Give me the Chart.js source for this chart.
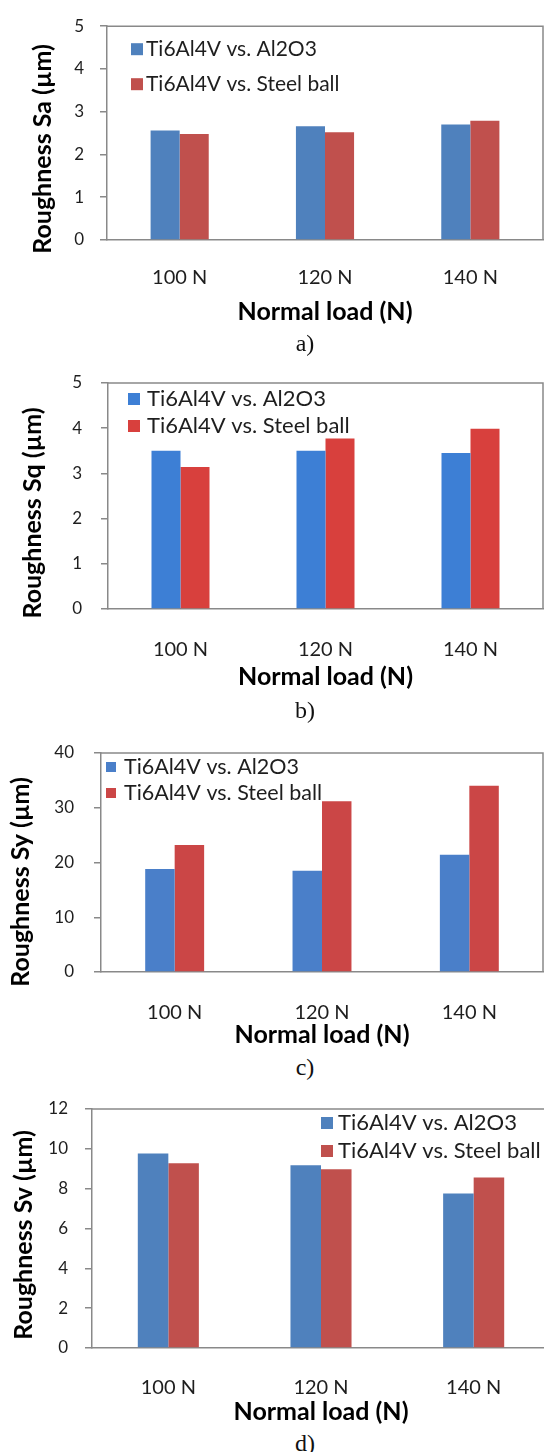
<!DOCTYPE html>
<html>
<head>
<meta charset="utf-8">
<script src="https://cdn.jsdelivr.net/npm/chart.js@4.4.1/dist/chart.umd.min.js"></script>
<style>
  html, body { margin: 0; padding: 0; background: #fff; }
  body { width: 544px; height: 1452px; position: relative; overflow: hidden; }
  canvas { position: absolute; left: 0; }
  .cap { position: absolute; width: 60px; margin-left: -30px; text-align: center;
         font-family: "Liberation Serif", serif; font-size: 24px; line-height: 24px; color: #111; }
</style>
</head>
<body>
<canvas id="chartA" width="544" height="330" style="top:0px"></canvas>
<canvas id="chartB" width="544" height="345" style="top:350px"></canvas>
<canvas id="chartC" width="544" height="343" style="top:710px"></canvas>
<canvas id="chartD" width="552" height="350" style="top:1080px"></canvas>
<div class="cap" style="left:305px;top:331px">a)</div>
<div class="cap" style="left:305px;top:698px">b)</div>
<div class="cap" style="left:305px;top:1055px">c)</div>
<div class="cap" style="left:305px;top:1431px">d)</div>
<script>
// categories and series
const loads = ['100 N', '120 N', '140 N'];
const seriesNames = ['Ti6Al4V vs. Al2O3', 'Ti6Al4V vs. Steel ball'];

// a) Sa
const saAl2O3 = [2.56, 2.66, 2.70];
const saSteel = [2.48, 2.52, 2.79];
// b) Sq
const sqAl2O3 = [3.50, 3.50, 3.45];
const sqSteel = [3.14, 3.77, 3.99];
// c) Sy
const syAl2O3 = [18.8, 18.5, 21.4];
const sySteel = [23.2, 31.2, 34.0];
// d) Sv
const svAl2O3 = [9.77, 9.17, 7.76];
const svSteel = [9.27, 8.97, 8.56];

const xTitle = 'Normal load (N)';
const AXIS = '#898989';
const TXT = '#1e1e1e';

// top + right border of the plot area
const framePlugin = {
    id: 'frame',
    beforeDatasetsDraw(chart) {
        const {ctx, chartArea: a} = chart;
        ctx.save();
        ctx.strokeStyle = AXIS;
        ctx.lineWidth = 1.5;
        ctx.beginPath();
        ctx.moveTo(a.left, a.top);
        ctx.lineTo(a.right, a.top);
        ctx.lineTo(a.right, a.bottom);
        ctx.stroke();
        ctx.restore();
    }
};

// legend drawn inside the plot area
const boxLegend = {
    id: 'boxLegend',
    afterDatasetsDraw(chart, args, o) {
        const {ctx, chartArea} = chart;
        ctx.save();
        ctx.font = o.size + 'px Lato';
        ctx.textBaseline = 'middle';
        ctx.textAlign = 'left';
        chart.data.datasets.forEach((ds, i) => {
            const y = chartArea.top + o.rows[i];
            const x = chartArea.left + o.x;
            ctx.fillStyle = ds.backgroundColor;
            ctx.fillRect(x, y - o.box / 2, o.box, o.box);
            ctx.fillStyle = TXT;
            ctx.fillText(ds.label, x + o.box + o.gap, y);
        });
        ctx.restore();
    }
};

// rotated y axis title
const sideTitle = {
    id: 'sideTitle',
    afterDraw(chart, args, o) {
        const ctx = chart.ctx;
        ctx.save();
        ctx.translate(o.x, o.y);
        ctx.rotate(-Math.PI / 2);
        ctx.font = 'bold ' + o.size + 'px Lato';
        ctx.fillStyle = '#000';
        ctx.textAlign = 'center';
        ctx.textBaseline = 'middle';
        ctx.fillText(o.text, 0, 0);
        ctx.restore();
    }
};

function makePanel(id, p) {
    const canvas = document.getElementById(id);
    return new Chart(canvas, {
        type: 'bar',
        data: {
            labels: loads,
            datasets: [
                {label: seriesNames[0], data: p.first, backgroundColor: p.colors[0]},
                {label: seriesNames[1], data: p.second, backgroundColor: p.colors[1]}
            ]
        },
        options: {
            responsive: false,
            animation: false,
            layout: {padding: {top: p.top, right: canvas.width - p.right, left: 0, bottom: 0}},
            datasets: {bar: {categoryPercentage: 0.4, barPercentage: 1.0}},
            scales: {
                x: {
                    grid: {drawOnChartArea: false, drawTicks: false},
                    border: {color: AXIS, width: 1.5},
                    ticks: {padding: p.xPad, color: TXT, font: {family: 'Lato', size: 20}},
                    title: {display: true, text: xTitle, color: '#000',
                        font: {family: 'Lato', size: 25, weight: 'bold'},
                        padding: {top: 0, bottom: 3}},
                    afterFit: s => { s.height = canvas.height - p.bottom; }
                },
                y: {
                    min: 0, max: p.yMax,
                    ticks: {stepSize: p.step, padding: p.yPad, color: TXT, font: {family: 'Lato', size: 17}},
                    grid: {drawOnChartArea: false, drawTicks: true, tickLength: 7, color: AXIS, lineWidth: 1.5},
                    border: {color: AXIS, width: 1.5},
                    afterFit: s => { s.width = p.left; }
                }
            },
            plugins: {
                legend: {display: false},
                tooltip: {enabled: false},
                boxLegend: p.legend,
                sideTitle: p.yTitle
            }
        },
        plugins: [framePlugin, boxLegend, sideTitle]
    });
}

makePanel('chartA', {
    first: saAl2O3, second: saSteel, colors: ['#4f81bd', '#c0504d'],
    top: 24, bottom: 240, left: 107, right: 543, yMax: 5, step: 1, yPad: 16, xPad: 26,
    legend: {x: 24, rows: [23, 58], box: 12, gap: 3, size: 21},
    yTitle: {text: 'Roughness Sa (µm)', x: 43, y: 149, size: 25}
});

makePanel('chartB', {
    first: sqAl2O3, second: sqSteel, colors: ['#3d7fd5', '#d8403d'],
    top: 33, bottom: 259, left: 108, right: 543, yMax: 5, step: 1, yPad: 19, xPad: 29,
    legend: {x: 20, rows: [16, 43], box: 12, gap: 7, size: 22},
    yTitle: {text: 'Roughness Sq (µm)', x: 33, y: 163, size: 25}
});

makePanel('chartC', {
    first: syAl2O3, second: sySteel, colors: ['#4a7fc9', '#cb4646'],
    top: 43, bottom: 262, left: 101, right: 543, yMax: 40, step: 10, yPad: 20, xPad: 29,
    legend: {x: 5, rows: [14, 40], box: 10, gap: 8, size: 21.5},
    yTitle: {text: 'Roughness Sy (µm)', x: 21, y: 172, size: 25}
});

makePanel('chartD', {
    first: svAl2O3, second: svSteel, colors: ['#4f81bd', '#c0504d'],
    top: 29, bottom: 268, left: 92, right: 550, yMax: 12, step: 2, yPad: 17, xPad: 28,
    legend: {x: 229, rows: [14, 42], box: 12, gap: 5, size: 22},
    yTitle: {text: 'Roughness Sv (µm)', x: 24, y: 155, size: 25}
});
</script>
</body>
</html>
